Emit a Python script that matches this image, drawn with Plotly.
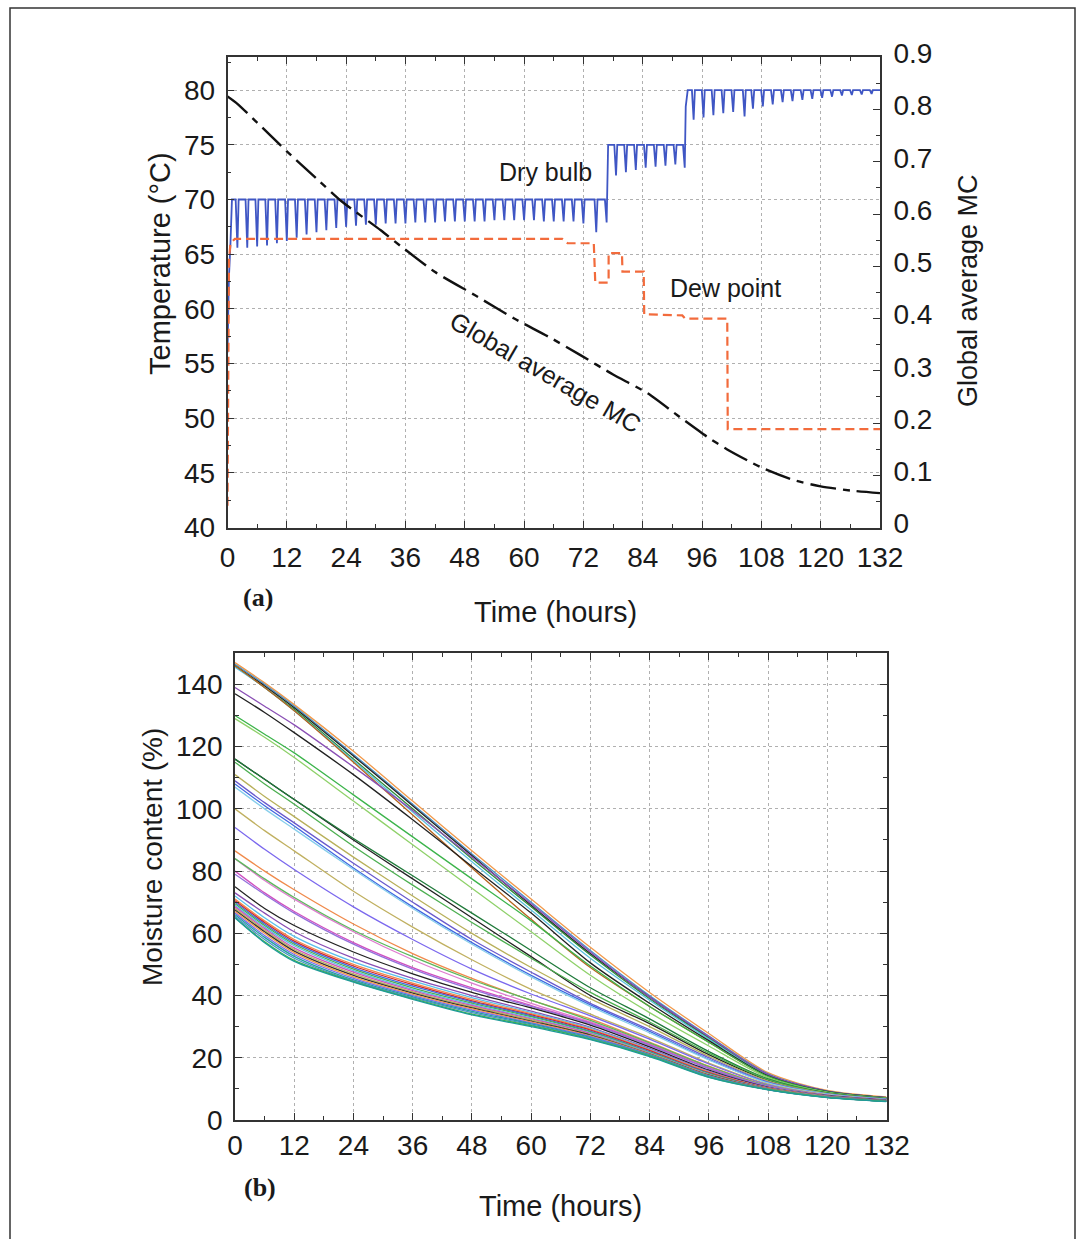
import plotly.graph_objects as go

W, H = 1086, 1239

# ---------------- (a) drying schedule ----------------
# dry bulb: start-up, then three set-point segments with periodic dips (one dip per cycle)
db_start_t = [[0.0, 0.3, 0.6, 0.9], [77.0], [92.7, 93.1]]
db_start_T = [[56.0, 63.0, 66.0, 70.0], [75.0], [78.5, 80.0]]
db_setpoint = [70.0, 75.0, 80.0]
db1_dip_t = [2, 4, 6, 8, 10, 12, 14, 16, 18, 20, 22, 24, 26, 28, 30, 32, 34, 36, 38, 40,
             42, 44, 46, 48, 50, 52, 54, 56, 58, 60, 62, 64, 66, 68, 70, 72, 74.6, 76.7]
db1_dip_T = [65.6, 65.6, 65.7, 65.8, 66.0, 66.2, 66.5, 66.8, 67.0, 67.2, 67.4, 67.5, 67.6, 67.7,
             67.7, 67.8, 67.8, 67.8, 67.9, 67.9, 67.9, 68.0, 68.0, 68.0, 68.0, 68.0, 68.1, 68.1,
             68.1, 68.1, 68.1, 68.0, 68.0, 68.0, 68.0, 67.8, 67.0, 67.9]
db2_dip_t = [78.6, 80.6, 82.6, 84.6, 86.6, 88.6, 90.6, 92.5]
db2_dip_T = [72.2, 72.5, 72.7, 72.9, 73.0, 73.1, 73.2, 72.9]
db3_dip_t = [94.3, 96.3, 98.3, 100.3, 102.3, 104.6, 106.3, 108.3, 110.3, 112.3, 114.3, 116.3,
             118.3, 120.3, 122.3, 124.3, 126.3, 128.3, 130.3]
db3_dip_T = [77.3, 77.5, 77.7, 77.9, 78.0, 77.6, 78.3, 78.5, 78.7, 78.9, 79.0, 79.1, 79.2,
             79.3, 79.4, 79.5, 79.55, 79.6, 79.65]
db_end_t, db_end_T = 132.0, 80.0

dp_t = [0, 0.3, 0.6, 1.5, 67.7, 68.8, 74.1, 74.4, 77.1, 77.1, 79.8, 79.9, 84.2, 84.3,
        92.0, 92.6, 101.1, 101.2, 132]
dp_T = [42.0, 64.5, 66.0, 66.4, 66.4, 66.0, 66.0, 62.4, 62.4, 65.1, 65.1, 63.4, 63.4, 59.5,
        59.4, 59.1, 59.1, 49.0, 49.0]

mc_t = [0, 2, 6, 12, 18, 23, 31, 35, 42, 50, 58, 65, 71.4, 78, 85, 91, 97, 101, 108,
        114.5, 120, 126, 132]
mc_v = [0.825, 0.811, 0.775, 0.72, 0.668, 0.625, 0.569, 0.539, 0.489, 0.445, 0.400, 0.365,
        0.330, 0.293, 0.257, 0.215, 0.174, 0.150, 0.115, 0.091, 0.079, 0.071, 0.066]

# ---------------- (b) moisture content of individual boards ----------------
board_t = [0, 6, 12, 24, 36, 48, 60, 72, 84, 96, 108, 120, 132]
board_mc = [
    [147, 140.5, 133.5, 118.5, 102.5, 86.5, 71, 55.5, 41, 27.8, 15.2, 9.5, 7.4],
    [146.5, 140, 133, 117.5, 101.5, 85.5, 70, 54.5, 40, 27, 14.8, 9.3, 7.2],
    [146, 139.5, 132.5, 117, 101, 85, 69, 53.5, 39.5, 26.5, 14.5, 9.2, 7.2],
    [146, 139, 132, 116, 100, 84, 68.5, 53, 39, 26.3, 14.5, 9.1, 7.1],
    [145.5, 139, 131.5, 115.5, 99, 83, 67.5, 52, 38.5, 26, 14.3, 9.1, 7.1],
    [146, 139, 131.5, 115, 98, 81, 64.5, 49, 36.5, 25, 14, 9, 7.0],
    [139, 133, 127, 113.5, 99.5, 84.5, 69.5, 54, 39.5, 26.8, 14.7, 9.2, 7.2],
    [137, 131, 124.5, 111, 96.5, 81.5, 66.5, 50.5, 37.5, 25.5, 14.2, 9.1, 7.1],
    [130, 124, 118, 104.5, 91, 77.5, 64, 49.5, 36.5, 25, 14, 9, 7],
    [129, 123, 116.5, 102.5, 88.5, 74.5, 60.5, 46.5, 34.5, 23.8, 13.6, 8.9, 7],
    [116, 109.5, 103, 90, 77.5, 65, 52.5, 40, 31, 21, 12.8, 8.6, 6.8],
    [116, 109.5, 103, 90.5, 78.5, 66.5, 54.5, 42.5, 32.5, 22, 13.2, 8.7, 6.9],
    [115, 108, 101.5, 88, 75.5, 63.5, 52, 41, 31.5, 21.5, 13, 8.6, 6.8],
    [111, 104, 97.5, 84.5, 72, 60, 49, 39, 30, 20.5, 12.5, 8.5, 6.7],
    [109, 102, 95.5, 82.5, 70, 58, 47.5, 37.5, 29, 20, 12.2, 8.4, 6.7],
    [108, 101, 94.5, 81, 68.5, 57, 46.5, 37, 28.5, 19.5, 12, 8.3, 6.6],
    [107, 100, 93.5, 80.5, 68, 56.5, 46, 36.5, 28, 19.3, 11.9, 8.3, 6.6],
    [100, 93, 86.5, 73.5, 62, 51.5, 42, 34, 26.5, 18.3, 11.5, 8.1, 6.5],
    [94, 87, 80.5, 68.5, 58, 48.5, 40.5, 33.5, 26, 18, 11.3, 8, 6.5],
    [86.5, 80, 74, 63, 53.5, 45.5, 38.5, 32.5, 25, 17.3, 11, 8, 6.4],
    [84, 77, 71, 60.5, 51.5, 44, 37.5, 31.5, 24.5, 17, 10.9, 7.9, 6.4],
    [84, 77.5, 71.5, 61, 52.5, 45, 38.5, 32, 24.8, 17.2, 11, 7.9, 6.4],
    [80, 73, 67, 57, 49, 42.5, 36.8, 31.2, 24.2, 16.7, 10.8, 7.9, 6.4],
    [79, 72.5, 66.5, 56.5, 48.5, 42, 36.5, 31, 24, 16.5, 10.8, 7.9, 6.4],
    [75, 68, 62.5, 54, 47, 41, 36, 30.5, 23.5, 16, 10.5, 7.8, 6.3],
    [73, 66.5, 60.5, 52, 45.5, 40, 35, 29.8, 23, 15.7, 10.4, 7.7, 6.3],
    [72, 65, 59, 50.8, 44.7, 39.3, 34.6, 29.5, 22.7, 15.5, 10.3, 7.7, 6.2],
    [71, 64, 58, 50, 44, 38.8, 34.2, 29.2, 22.5, 15.4, 10.3, 7.7, 6.2],
    [70.5, 63.5, 57.5, 49.5, 43.5, 38.3, 33.8, 28.9, 22.3, 15.2, 10.2, 7.6, 6.2],
    [70, 63, 57, 49, 43, 38, 33.5, 28.6, 22, 15, 10.1, 7.6, 6.2],
    [69.5, 62.5, 56.5, 48.5, 42.5, 37.6, 33.2, 28.3, 21.8, 14.9, 10.1, 7.6, 6.2],
    [69, 62, 56, 48, 42, 37.2, 32.8, 28, 21.6, 14.7, 10, 7.5, 6.1],
    [68.5, 61.5, 55.3, 47.5, 41.6, 36.8, 32.5, 27.8, 21.4, 14.6, 10, 7.5, 6.1],
    [68, 61, 54.8, 47, 41.2, 36.4, 32.2, 27.5, 21.3, 14.5, 9.9, 7.5, 6.1],
    [67.5, 60.5, 54.3, 46.5, 40.8, 36, 31.8, 27.3, 21.2, 14.4, 9.9, 7.4, 6.1],
    [67, 60, 53.8, 46, 40.4, 35.7, 31.5, 27, 21.1, 14.3, 9.9, 7.4, 6.0],
    [66.5, 59.3, 53.2, 45.5, 40, 35.3, 31.2, 26.8, 21, 14.2, 9.8, 7.4, 6.0],
    [66, 58.7, 52.6, 45, 39.6, 34.9, 30.9, 26.5, 20.9, 14.1, 9.8, 7.3, 6.0],
    [65.5, 58, 52, 44.7, 39.3, 34.5, 30.6, 26.3, 20.8, 14, 9.8, 7.3, 6.0],
    [65, 57.3, 51.3, 44.5, 39, 34, 30.3, 26, 20.6, 13.8, 9.8, 7.3, 6.0],
    [65, 57, 51, 44.3, 38.8, 33.8, 30, 25.8, 20.4, 13.7, 9.7, 7.2, 5.9],
]
board_colors = [
    "#f2994a", "#4a90c8", "#222222", "#2e8b3a", "#5bc0de", "#b5651d", "#8a4fb5", "#222222",
    "#3cb44b", "#8fd16a", "#222222", "#1f7a3a", "#4caf50", "#b8b05a", "#6a5acd", "#4169e1",
    "#87ceeb", "#c0b060", "#7b68ee", "#f08a4b", "#e07bd0", "#5cb85c", "#d04fc0", "#9370db",
    "#222222", "#8a4fb5", "#5bc0eb", "#f08a4b", "#d62728", "#4169e1", "#4caf50", "#5bc0de",
    "#d04fc0", "#b8b05a", "#333333", "#f2994a", "#7b68ee", "#20a0a0", "#4a90c8", "#3cb44b",
    "#1f9a9a",
]

# ---------------- build dry-bulb trace from the per-cycle dips ----------------
db_x, db_y = [], []
dips = [(db1_dip_t, db1_dip_T), (db2_dip_t, db2_dip_T), (db3_dip_t, db3_dip_T)]
for k, (sp, (dts, dTs)) in enumerate(zip(db_setpoint, dips)):
    db_x += db_start_t[k]
    db_y += db_start_T[k]
    for i, (d, v) in enumerate(zip(dts, dTs)):
        db_x += [d - 0.35, d]
        db_y += [sp, v]
        last = i == len(dts) - 1
        if not (last and k < len(dips) - 1):
            db_x.append(d + 0.25)
            db_y.append(sp)
db_x.append(db_end_t)
db_y.append(db_end_T)

FONT = "Liberation Sans, Arial, sans-serif"
TXT = "#1a1a1a"

fig = go.Figure()
fig.add_trace(go.Scatter(x=db_x, y=db_y, mode="lines", xaxis="x", yaxis="y",
                         line=dict(color="#3f56c4", width=1.8), hoverinfo="skip"))
fig.add_trace(go.Scatter(x=dp_t, y=dp_T, mode="lines", xaxis="x", yaxis="y",
                         line=dict(color="#f26b3c", width=2.2, dash="9px,5px")))
fig.add_trace(go.Scatter(x=mc_t, y=mc_v, mode="lines", xaxis="x", yaxis="y2",
                         line=dict(color="#111111", width=2.4, dash="26px,7px,7px,7px",
                                   shape="spline", smoothing=0.6)))
for vals, col in zip(board_mc, board_colors):
    fig.add_trace(go.Scatter(x=board_t, y=vals, mode="lines", xaxis="x2", yaxis="y3",
                             line=dict(color=col, width=1.3, shape="spline", smoothing=0.8)))


def px_x(p):
    return p / W


def px_y(p):
    return 1 - p / H


grid = dict(showgrid=True, gridcolor="#b0b0b0", griddash="dot", gridwidth=1)
axline = dict(showline=True, linecolor="#333333", linewidth=1.6, ticks="inside",
              tickcolor="#333333", ticklen=7, tickfont=dict(family=FONT, size=28, color=TXT),
              zeroline=False, automargin=False)

fig.update_layout(
    width=W, height=H, margin=dict(l=0, r=0, t=0, b=0, pad=0, autoexpand=False),
    paper_bgcolor="white", plot_bgcolor="white", showlegend=False,
    xaxis=dict(domain=[px_x(227.5), px_x(880)], anchor="y", range=[0, 132],
               tickmode="array", tickvals=list(range(0, 133, 12)), mirror="ticks",
               minor=dict(ticks="inside", dtick=6, tick0=0, ticklen=4, tickcolor="#333333",
                          showgrid=False),
               ticklabelstandoff=4, **grid, **axline),
    yaxis=dict(domain=[px_y(527.6), px_y(57.3)], anchor="x", range=[40, 83],
               tick0=40, dtick=5,
               minor=dict(ticks="inside", dtick=2.5, tick0=40, ticklen=4, tickcolor="#333333",
                          showgrid=False),
               ticklabelstandoff=5, **grid, **axline),
    yaxis2=dict(overlaying="y", side="right", anchor="x", range=[0, 0.9], tick0=0, dtick=0.1,
                showgrid=False,
                minor=dict(ticks="inside", dtick=0.05, ticklen=4, tickcolor="#333333"),
                ticklabelstandoff=6, ticklabelshift=-4, **axline),
    xaxis2=dict(domain=[px_x(235), px_x(886.5)], anchor="y3", range=[0, 132],
                tickmode="array", tickvals=list(range(0, 133, 12)), mirror="ticks",
                minor=dict(ticks="inside", dtick=6, tick0=0, ticklen=4, tickcolor="#333333",
                           showgrid=False),
                ticklabelstandoff=0, **grid, **axline),
    yaxis3=dict(domain=[px_y(1120), px_y(653.3)], anchor="x2", range=[0, 150],
                tick0=0, dtick=20, mirror="ticks",
                tickvals=list(range(0, 141, 20)),
                minor=dict(ticks="inside", dtick=10, tick0=0, ticklen=4, tickcolor="#333333",
                           showgrid=False),
                ticklabelstandoff=5, **grid, **axline),
)

ann = []


def label(text, x, y, size=28, angle=0, family=FONT):
    ann.append(dict(text=text, x=px_x(x), y=px_y(y), xref="paper", yref="paper",
                    showarrow=False, textangle=angle, xanchor="center", yanchor="middle",
                    font=dict(family=family, size=size, color=TXT)))


label("Temperature (°C)", 160, 264, size=29, angle=-90)
label("Global average MC", 968, 291, size=27, angle=-90)
label("Time (hours)", 555, 612, size=29)
label("<b>(a)</b>", 258, 598, size=26, family="Liberation Serif, Times New Roman, serif")
label("Moisture content (%)", 152, 857, size=28, angle=-90)
label("Time (hours)", 560, 1206, size=29)
label("<b>(b)</b>", 260, 1187, size=26, family="Liberation Serif, Times New Roman, serif")
label("Dry bulb", 545, 172, size=25)
label("Dew point", 725, 288, size=25)
label("Global average MC", 545, 372, size=25, angle=30)
fig.update_layout(annotations=ann)

fig.add_shape(type="rect", xref="paper", yref="paper", x0=px_x(10), x1=px_x(1075),
              y0=-0.05, y1=px_y(8), line=dict(color="#333333", width=1.5),
              fillcolor="rgba(0,0,0,0)", layer="below")

fig.write_html("out.html", config={"displayModeBar": False, "responsive": False},
               post_script="document.body.style.margin='0px';"
                           "document.documentElement.style.overflow='hidden';")
